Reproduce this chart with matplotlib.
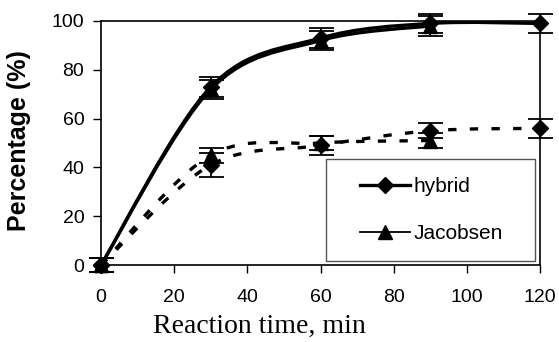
import matplotlib.pyplot as plt
import numpy as np
from matplotlib.path import Path
from matplotlib.patches import PathPatch, Rectangle
from matplotlib.lines import Line2D

plt.rcParams['font.family'] = ['Liberation Sans', 'DejaVu Sans']

time_min = [0, 30, 60, 90, 120]

# solid curves
hybrid_a = [0, 73, 93, 99, 99]
hybrid_a_err = [3, 4, 4, 4, 4]
jacobsen_a = [0, 72, 92, 98]
jacobsen_a_err = [3, 4, 4, 4]

# dashed curves
hybrid_b = [0, 41, 49, 55, 56]
hybrid_b_err = [3, 5, 4, 3, 4]
jacobsen_b = [0, 45, 50, 51]
jacobsen_b_err = [3, 3, 3, 3]

x_ticks = [0, 20, 40, 60, 80, 100, 120]
y_ticks = [0, 20, 40, 60, 80, 100]


def smooth_path(xs, ys):
    # excel-like smoothed line (catmull-rom as cubic bezier)
    pts = np.column_stack([xs, ys]).astype(float)
    n = len(pts)
    verts = [pts[0]]
    codes = [Path.MOVETO]
    for i in range(n - 1):
        p0 = pts[i - 1] if i > 0 else pts[i]
        p1 = pts[i]
        p2 = pts[i + 1]
        p3 = pts[i + 2] if i + 2 < n else pts[i + 1]
        c1 = p1 + (p2 - p0) / 6.0
        c2 = p2 - (p3 - p1) / 6.0
        verts += [c1, c2, p2]
        codes += [Path.CURVE4] * 3
    return Path(verts, codes)


fig = plt.figure(figsize=(5.59, 3.42), dpi=100)
ax = fig.add_axes([0.1807, 0.2251, 0.7853, 0.7135])

series = [
    (jacobsen_b, jacobsen_b_err, '^', (0, (2.5, 4))),
    (hybrid_b, hybrid_b_err, 'D', (0, (2.5, 4))),
    (jacobsen_a, jacobsen_a_err, '^', 'solid'),
    (hybrid_a, hybrid_a_err, 'D', 'solid'),
]
for vals, errs, mk, ls in series:
    xs = time_min[:len(vals)]
    ax.add_patch(PathPatch(smooth_path(xs, vals), fill=False, lw=2.4,
                           ls=ls, ec='black', capstyle='butt', zorder=2))
    ax.errorbar(xs, vals, yerr=errs, fmt=mk, color='black', ms=10 if mk == '^' else 8,
                ecolor='black', elinewidth=1.3, capsize=9, capthick=1.3, zorder=3,
                clip_on=False)

ax.set_xlim(0, 120)
ax.set_ylim(0, 100)
ax.set_xticks(x_ticks)
ax.set_yticks(y_ticks)
ax.tick_params(axis='both', direction='out', length=6, width=1, labelsize=14, pad=6)
ax.tick_params(axis='x', pad=11)
for s in ax.spines.values():
    s.set_linewidth(1.2)

ax.set_ylabel('Percentage (%)', fontsize=18, fontweight='bold')
ax.yaxis.set_label_coords(-0.16, 0.51)
ax.set_xlabel('Reaction time, min', fontsize=20, family=['Liberation Serif', 'DejaVu Serif'])
ax.xaxis.set_label_coords(0.362, -0.2)

# legend box
ax.add_patch(Rectangle((0.5125, 0.0164), 0.4761, 0.4176, transform=ax.transAxes,
                       fill=True, fc='white', ec='#555555', lw=1.0, zorder=4))
handles = [
    Line2D([], [], color='black', lw=2.4, marker='D', ms=8),
    Line2D([], [], color='black', lw=1.3, marker='^', ms=10),
]
leg = ax.legend(handles, ['hybrid', 'Jacobsen'], loc='center left',
                bbox_to_anchor=(0.59, 0.2254), fontsize=15, frameon=False,
                handlelength=2.4, handletextpad=0.15, labelspacing=1.35,
                borderpad=0, borderaxespad=0)
leg.set_zorder(5)

fig.savefig('out.png', dpi=100)
